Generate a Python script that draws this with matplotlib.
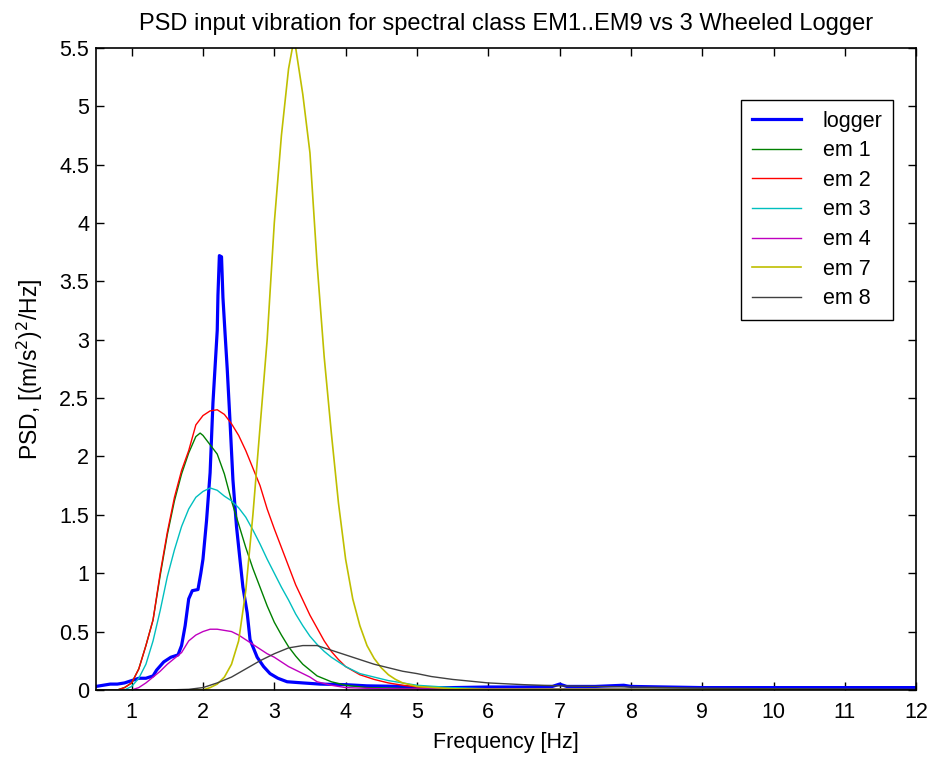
import matplotlib
matplotlib.use('Agg')
import matplotlib.pyplot as plt
from matplotlib.ticker import FuncFormatter

plt.rcParams['font.family'] = ['Liberation Sans', 'DejaVu Sans']

# ---- data ----
f_logger = [0.5, 0.6, 0.7, 0.8, 0.9, 1.0, 1.1, 1.2, 1.3, 1.35, 1.45, 1.55, 1.65, 1.7, 1.75,
            1.8, 1.85, 1.93, 1.97, 2.0, 2.05, 2.1, 2.14, 2.17, 2.2, 2.21, 2.23, 2.26, 2.28,
            2.31, 2.34, 2.38, 2.42, 2.47, 2.52, 2.56, 2.62, 2.66, 2.76, 2.85, 2.94, 3.05,
            3.18, 3.4, 3.64, 4.0, 4.3, 4.8, 5.0, 5.5, 6.0, 6.5, 6.9, 7.0, 7.1, 7.5, 7.9,
            8.0, 9.0, 10.0, 11.0, 12.0]
v_logger = [0.03, 0.04, 0.05, 0.05, 0.06, 0.08, 0.10, 0.10, 0.12, 0.17, 0.24, 0.28, 0.30,
            0.38, 0.55, 0.78, 0.85, 0.86, 1.00, 1.12, 1.45, 1.86, 2.46, 2.77, 3.08, 3.38,
            3.72, 3.71, 3.36, 3.05, 2.75, 2.29, 1.80, 1.40, 1.11, 0.88, 0.66, 0.43, 0.28,
            0.20, 0.14, 0.10, 0.07, 0.06, 0.05, 0.045, 0.035, 0.03, 0.02, 0.02, 0.025,
            0.025, 0.03, 0.05, 0.03, 0.03, 0.04, 0.03, 0.02, 0.02, 0.02, 0.02]

f_em1 = [0.5, 0.8, 0.9, 1.0, 1.1, 1.2, 1.3, 1.4, 1.5, 1.6, 1.7, 1.8, 1.9, 1.96, 2.0, 2.1,
         2.2, 2.3, 2.4, 2.5, 2.6, 2.7, 2.8, 2.9, 3.0, 3.1, 3.2, 3.3, 3.4, 3.5, 3.6, 3.8,
         4.0, 4.3, 5.0, 12.0]
v_em1 = [0.0, 0.0, 0.02, 0.06, 0.18, 0.38, 0.60, 0.98, 1.33, 1.62, 1.85, 2.03, 2.17, 2.20,
         2.18, 2.10, 2.02, 1.85, 1.62, 1.42, 1.22, 1.04, 0.88, 0.72, 0.58, 0.47, 0.37,
         0.29, 0.22, 0.17, 0.12, 0.07, 0.04, 0.02, 0.01, 0.0]

f_em2 = [0.5, 0.8, 0.9, 1.0, 1.1, 1.2, 1.3, 1.4, 1.5, 1.6, 1.7, 1.8, 1.9, 2.0, 2.1, 2.2,
         2.3, 2.4, 2.5, 2.6, 2.7, 2.8, 2.9, 3.0, 3.1, 3.2, 3.3, 3.4, 3.5, 3.6, 3.7, 3.8,
         3.9, 4.0, 4.2, 4.4, 4.6, 4.8, 5.0, 5.5, 6.0, 12.0]
v_em2 = [0.0, 0.0, 0.02, 0.06, 0.18, 0.38, 0.60, 1.00, 1.35, 1.65, 1.88, 2.05, 2.27, 2.35,
         2.39, 2.40, 2.36, 2.28, 2.18, 2.05, 1.90, 1.75, 1.55, 1.38, 1.22, 1.06, 0.90,
         0.77, 0.64, 0.53, 0.42, 0.33, 0.26, 0.20, 0.13, 0.09, 0.06, 0.04, 0.025, 0.01,
         0.005, 0.0]

f_em3 = [0.5, 0.9, 1.0, 1.1, 1.2, 1.3, 1.4, 1.5, 1.6, 1.7, 1.8, 1.9, 2.0, 2.1, 2.2, 2.3,
         2.4, 2.5, 2.6, 2.7, 2.8, 2.9, 3.0, 3.1, 3.2, 3.3, 3.4, 3.5, 3.6, 3.7, 3.8, 3.9,
         4.0, 4.2, 4.4, 4.6, 4.8, 5.0, 5.5, 6.0, 12.0]
v_em3 = [0.0, 0.0, 0.03, 0.10, 0.22, 0.42, 0.68, 0.97, 1.20, 1.40, 1.55, 1.65, 1.70, 1.73,
         1.71, 1.66, 1.62, 1.56, 1.48, 1.37, 1.25, 1.12, 1.00, 0.88, 0.77, 0.65, 0.55,
         0.46, 0.39, 0.33, 0.28, 0.24, 0.20, 0.14, 0.11, 0.08, 0.06, 0.04, 0.02, 0.01, 0.0]

f_em4 = [0.5, 1.0, 1.1, 1.2, 1.3, 1.4, 1.5, 1.6, 1.7, 1.8, 1.9, 2.0, 2.1, 2.2, 2.3, 2.4,
         2.5, 2.6, 2.7, 2.8, 2.9, 3.0, 3.1, 3.2, 3.3, 3.4, 3.5, 3.6, 3.8, 4.0, 4.5, 12.0]
v_em4 = [0.0, 0.0, 0.02, 0.06, 0.11, 0.16, 0.22, 0.27, 0.32, 0.42, 0.47, 0.50, 0.52, 0.52,
         0.51, 0.50, 0.47, 0.43, 0.39, 0.35, 0.31, 0.28, 0.24, 0.20, 0.17, 0.14, 0.11,
         0.07, 0.04, 0.02, 0.01, 0.0]

f_em7 = [0.5, 2.0, 2.1, 2.2, 2.3, 2.4, 2.5, 2.6, 2.7, 2.8, 2.9, 3.0, 3.1, 3.2, 3.26, 3.3,
         3.4, 3.5, 3.6, 3.7, 3.8, 3.9, 4.0, 4.1, 4.2, 4.3, 4.4, 4.5, 4.6, 4.7, 4.8, 5.0,
         5.5, 6.0, 9.3, 12.0]
v_em7 = [0.0, 0.0, 0.02, 0.05, 0.11, 0.22, 0.42, 0.85, 1.50, 2.25, 3.00, 4.00, 4.75, 5.32,
         5.52, 5.50, 5.10, 4.60, 3.65, 2.85, 2.20, 1.60, 1.12, 0.78, 0.55, 0.38, 0.27,
         0.19, 0.13, 0.09, 0.06, 0.03, 0.01, 0.005, 0.003, 0.0]

f_em8 = [0.5, 1.5, 1.8, 2.0, 2.2, 2.4, 2.6, 2.8, 3.0, 3.2, 3.4, 3.6, 3.8, 4.0, 4.2, 4.4,
         4.6, 4.8, 5.0, 5.2, 5.5, 6.0, 6.5, 7.0, 7.5, 8.0, 9.0, 10.0, 12.0]
v_em8 = [0.0, 0.0, 0.005, 0.02, 0.06, 0.11, 0.18, 0.25, 0.31, 0.36, 0.38, 0.38, 0.34, 0.30,
         0.26, 0.22, 0.19, 0.16, 0.14, 0.115, 0.09, 0.06, 0.045, 0.035, 0.03, 0.025,
         0.015, 0.01, 0.005]

labels = ['logger', 'em 1', 'em 2', 'em 3', 'em 4', 'em 7', 'em 8']
yticks = [0, 0.5, 1, 1.5, 2, 2.5, 3, 3.5, 4, 4.5, 5, 5.5]
xticks = [1, 2, 3, 4, 5, 6, 7, 8, 9, 10, 11, 12]

# ---- figure ----
fig = plt.figure(figsize=(9.32, 7.59), dpi=100)
ax = fig.add_axes([0.103, 0.091, 0.880, 0.846])

ax.plot(f_logger, v_logger, color='#0000ff', lw=2.3, label=labels[0])
ax.plot(f_em1, v_em1, color='#008000', lw=1.0, label=labels[1])
ax.plot(f_em2, v_em2, color='#ff0000', lw=1.0, label=labels[2])
ax.plot(f_em3, v_em3, color='#00bfbf', lw=1.0, label=labels[3])
ax.plot(f_em4, v_em4, color='#bf00bf', lw=1.0, label=labels[4])
ax.plot(f_em7, v_em7, color='#bfbf00', lw=1.2, label=labels[5])
ax.plot(f_em8, v_em8, color='#404040', lw=1.0, label=labels[6])

ax.set_xlim(0.5, 12)
ax.set_ylim(0, 5.5)
ax.set_xticks(xticks)
ax.set_yticks(yticks)
ax.yaxis.set_major_formatter(FuncFormatter(lambda v, p: ('%g' % v)))
ax.tick_params(direction='in', length=6, width=1, top=True, right=True,
               labelsize=15.5)
ax.tick_params(axis='x', pad=9)
ax.tick_params(axis='y', pad=5)
for s in ax.spines.values():
    s.set_linewidth(1.2)

ax.set_title('PSD input vibration for spectral class EM1..EM9 vs 3 Wheeled Logger',
             fontsize=17, pad=13)
ax.set_xlabel('Frequency [Hz]', fontsize=15.5, labelpad=6)
ax.set_ylabel('PSD, [(m/s$^2$)$^2$/Hz]', fontsize=16.5, labelpad=10)

leg = ax.legend(loc='upper right', bbox_to_anchor=(0.972, 0.919), fontsize=15.5,
                fancybox=False, framealpha=1, edgecolor='black',
                handlelength=2.3, handletextpad=1.0, borderpad=0.5,
                labelspacing=0.4, borderaxespad=0)
leg.get_frame().set_linewidth(1.0)

fig.savefig('out.png', dpi=100, facecolor='white')
